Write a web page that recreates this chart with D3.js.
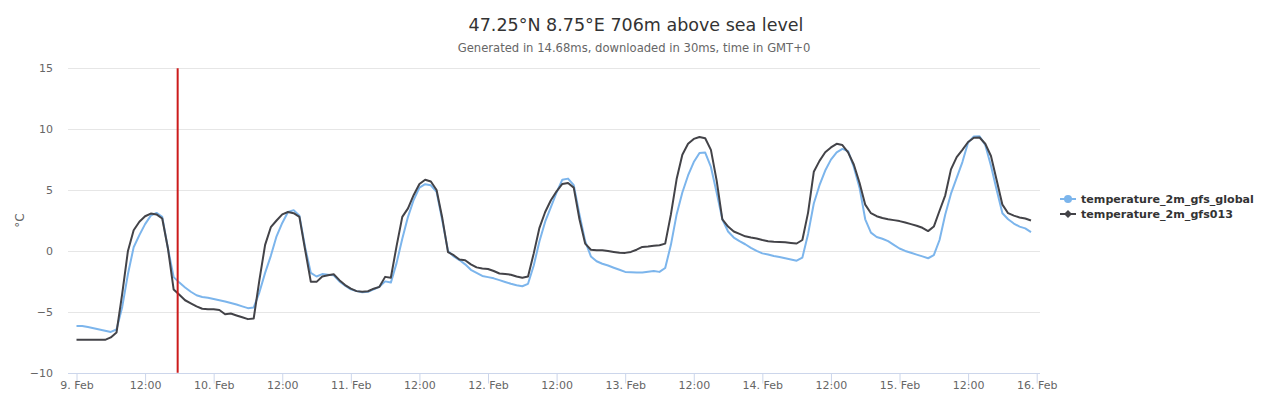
<!DOCTYPE html>
<html>
<head>
<meta charset="utf-8">
<script src="https://cdn.jsdelivr.net/npm/d3@7"></script>
<style>
  html, body { margin: 0; padding: 0; background: #fff; }
  svg { display: block; font-family: "DejaVu Sans", sans-serif; }
</style>
</head>
<body>
<svg id="chart" width="1272" height="397"></svg>
<script>
// hourly values starting 9 Feb 00:00 GMT
const startTime = Date.UTC(2018, 1, 9, 0, 0);
const nowTime = Date.UTC(2018, 1, 9, 17, 42);

const gfsGlobal = [
  -6.16, -6.16, -6.25, -6.35, -6.45, -6.55, -6.65, -6.45, -4.6, -1.9, 0.3, 1.3,
  2.2, 2.9, 3.12, 2.8, 0.2, -2.15, -2.6, -3.0, -3.35, -3.64, -3.78, -3.85,
  -3.95, -4.05, -4.15, -4.27, -4.4, -4.55, -4.7, -4.65, -3.4, -1.8, -0.4, 1.2,
  2.3, 3.2, 3.35, 2.9, 0.3, -1.8, -2.1, -1.9, -1.95, -2.0, -2.5, -2.85,
  -3.15, -3.3, -3.4, -3.35, -3.15, -2.95, -2.5, -2.6, -1.0, 1.0, 2.8, 4.2,
  5.2, 5.48, 5.39, 4.85, 2.5, 0.0, -0.45, -0.75, -1.1, -1.55, -1.8, -2.05,
  -2.15, -2.25, -2.4, -2.55, -2.7, -2.82, -2.9, -2.7, -1.2, 0.8, 2.4, 3.6,
  4.8, 5.85, 5.94, 5.4, 3.0, 0.8, -0.45, -0.85, -1.05, -1.2, -1.38, -1.55,
  -1.72, -1.75, -1.77, -1.77, -1.7, -1.65, -1.72, -1.4, 0.5, 3.0, 4.8, 6.2,
  7.3, 8.05, 8.08, 6.9, 4.8, 2.6, 1.6, 1.1, 0.8, 0.55, 0.25, 0.0,
  -0.2, -0.3, -0.42, -0.5, -0.6, -0.7, -0.8, -0.55, 1.4, 3.9, 5.4, 6.6,
  7.5, 8.1, 8.38, 8.2, 6.9, 5.2, 2.6, 1.5, 1.15, 1.0, 0.8, 0.5,
  0.2, 0.0, -0.15, -0.3, -0.45, -0.6, -0.35, 0.9, 3.0, 4.7, 6.0, 7.3,
  8.9, 9.4, 9.42, 8.7, 7.0, 5.0, 3.1, 2.6, 2.25, 2.0, 1.85, 1.55
];

const gfs013 = [
  -7.3, -7.3, -7.3, -7.3, -7.3, -7.3, -7.1, -6.7, -3.5, 0.0, 1.7, 2.4,
  2.85, 3.07, 3.0, 2.66, 0.2, -3.17, -3.6, -4.05, -4.3, -4.55, -4.75, -4.79,
  -4.79, -4.85, -5.2, -5.14, -5.3, -5.45, -5.6, -5.55, -2.4, 0.5, 1.95, 2.5,
  3.0, 3.2, 3.1, 2.8, 0.1, -2.54, -2.54, -2.1, -2.0, -1.91, -2.4, -2.8,
  -3.1, -3.3, -3.35, -3.31, -3.1, -2.95, -2.13, -2.2, 0.4, 2.8, 3.5, 4.6,
  5.5, 5.85, 5.7, 5.0, 2.7, -0.1, -0.35, -0.7, -0.76, -1.1, -1.35, -1.45,
  -1.48, -1.65, -1.85, -1.9, -1.95, -2.1, -2.2, -2.1, -0.2, 1.9, 3.2, 4.16,
  4.9, 5.5, 5.58, 5.2, 2.6, 0.6, 0.1, 0.06, 0.06, 0.0, -0.08, -0.15,
  -0.16, -0.08, 0.1, 0.33, 0.36, 0.42, 0.47, 0.6, 3.0, 5.9, 7.9, 8.8,
  9.2, 9.36, 9.25, 8.3, 5.8, 2.6, 2.0, 1.6, 1.4, 1.2, 1.1, 1.02,
  0.9, 0.8, 0.75, 0.74, 0.72, 0.66, 0.61, 0.9, 3.15, 6.5, 7.4, 8.1,
  8.5, 8.8, 8.7, 8.1, 7.1, 5.6, 3.8, 3.1, 2.85, 2.7, 2.6, 2.53,
  2.45, 2.33, 2.2, 2.07, 1.9, 1.63, 2.0, 3.3, 4.57, 6.7, 7.7, 8.3,
  8.95, 9.3, 9.32, 8.8, 7.8, 5.8, 3.8, 3.1, 2.9, 2.75, 2.66, 2.5
];

const seriesNames = ['temperature_2m_gfs_global', 'temperature_2m_gfs013'];
const seriesColors = ['#7cb5ec', '#434348'];
const yTicks = [-10, -5, 0, 5, 10, 15];

const svg = d3.select('#chart');
const plotLeft = 68, plotRight = 1040, plotTop = 68.3, plotBottom = 372.7;

const x = d3.scaleUtc()
  .domain([startTime, startTime + 7 * 864e5])
  .range([76.5, 1036.7]);
const y = d3.scaleLinear()
  .domain([-10, 15])
  .range([plotBottom, plotTop]);

// title
svg.append('text')
  .attr('x', 636).attr('y', 31)
  .attr('text-anchor', 'middle')
  .attr('font-size', 17.5).attr('fill', '#333')
  .text('47.25°N 8.75°E 706m above sea level');
svg.append('text')
  .attr('x', 634).attr('y', 52)
  .attr('text-anchor', 'middle')
  .attr('font-size', 11.6).attr('fill', '#666')
  .text('Generated in 14.68ms, downloaded in 30ms, time in GMT+0');

// grid + y labels
const yAxis = svg.append('g');
yAxis.selectAll('line').data(yTicks).enter().append('line')
  .attr('x1', plotLeft).attr('x2', plotRight)
  .attr('y1', d => Math.round(y(d)) + 0.5).attr('y2', d => Math.round(y(d)) + 0.5)
  .attr('stroke', '#e6e6e6').attr('stroke-width', 1);
yAxis.selectAll('text').data(yTicks).enter().append('text')
  .attr('x', 53).attr('y', d => y(d) + 4)
  .attr('text-anchor', 'end')
  .attr('font-size', 11).attr('fill', '#666')
  .text(d => d < 0 ? '\u2212' + Math.abs(d) : d);

svg.append('text')
  .attr('transform', 'translate(24,' + ((plotTop + plotBottom) / 2) + ') rotate(-90)')
  .attr('text-anchor', 'middle')
  .attr('font-size', 12).attr('fill', '#666')
  .text('°C');

// x axis
const xTicks = d3.range(0, 15).map(i => new Date(startTime + i * 12 * 36e5));
const fmtDay = d3.utcFormat('%-d. %b');
const fmtHour = d3.utcFormat('%H:%M');
const xAxisG = svg.append('g')
  .attr('transform', 'translate(0,' + (Math.round(plotBottom) + 0.5) + ')')
  .call(d3.axisBottom(x)
    .tickValues(xTicks)
    .tickSize(10)
    .tickFormat(d => d.getUTCHours() === 0 ? fmtDay(d) : fmtHour(d)));
xAxisG.select('.domain').remove();
xAxisG.selectAll('.tick line').attr('stroke', '#ccd6eb');
xAxisG.selectAll('.tick text')
  .attr('y', 8).attr('dy', '0.71em')
  .attr('font-size', 11).attr('fill', '#666')
  .attr('font-family', '"DejaVu Sans", sans-serif');
xAxisG.append('line')
  .attr('x1', plotLeft).attr('x2', plotRight)
  .attr('y1', 0).attr('y2', 0)
  .attr('stroke', '#ccd6eb');

// series
const line = d3.line()
  .x((d, i) => x(startTime + i * 36e5))
  .y(d => y(d));
[gfsGlobal, gfs013].forEach((vals, k) => {
  svg.append('path')
    .datum(vals)
    .attr('fill', 'none')
    .attr('stroke', seriesColors[k])
    .attr('stroke-width', 2)
    .attr('stroke-linejoin', 'round')
    .attr('d', line);
});

// now marker
svg.append('line')
  .attr('x1', x(nowTime)).attr('x2', x(nowTime))
  .attr('y1', plotTop).attr('y2', plotBottom)
  .attr('stroke', '#cc1b1b').attr('stroke-width', 2);

// legend
const legend = svg.append('g').attr('transform', 'translate(1060,199)');
seriesNames.forEach((name, k) => {
  const item = legend.append('g').attr('transform', 'translate(0,' + (k * 15) + ')');
  item.append('line')
    .attr('x1', 0).attr('x2', 16).attr('y1', 0).attr('y2', 0)
    .attr('stroke', seriesColors[k]).attr('stroke-width', 2);
  if (k === 0) {
    item.append('circle').attr('cx', 8).attr('cy', 0).attr('r', 4).attr('fill', seriesColors[k]);
  } else {
    item.append('path').attr('d', 'M8,-4L12,0L8,4L4,0Z').attr('fill', seriesColors[k]);
  }
  item.append('text')
    .attr('x', 21).attr('y', 4.2)
    .attr('font-size', 11.1).attr('font-weight', 'bold').attr('fill', '#333')
    .text(name);
});
</script>
</body>
</html>
